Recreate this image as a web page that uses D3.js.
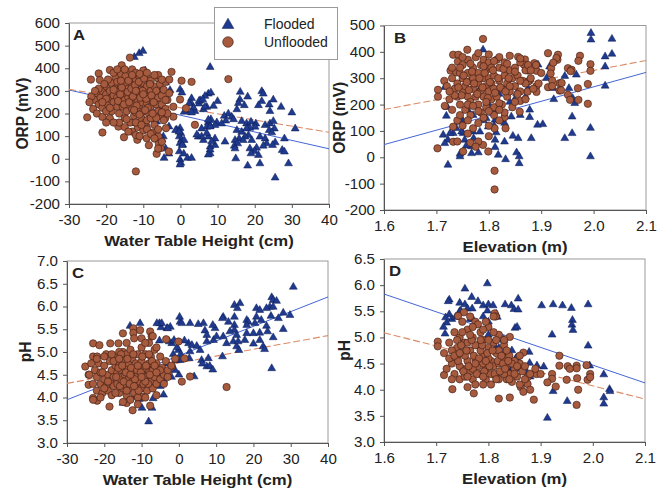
<!DOCTYPE html>
<html><head><meta charset="utf-8">
<script src="https://cdn.jsdelivr.net/npm/d3@7"></script>
<style>body{margin:0;background:#fff} text{font-family:Arial,"Liberation Sans",sans-serif}</style>
</head><body><svg id="c" width="667" height="492"></svg>
<script>
// ---------- tick labels ----------
const wtTicks = [-30,-20,-10,0,10,20,30,40];
const elevTicks = [1.6,1.7,1.8,1.9,2.0,2.1];
const orpTicksA = [-200,-100,0,100,200,300,400,500,600];
const orpTicksB = [-200,-100,0,100,200,300,400,500];
const phTicksC = [3.0,3.5,4.0,4.5,5.0,5.5,6.0,6.5,7.0];
const phTicksD = [3.0,3.5,4.0,4.5,5.0,5.5,6.0,6.5];
const seriesNames = ["Flooded","Unflooded"];

// ---------- Panel A: water table height (cm) vs ORP (mV) ----------
const aFlooded = [[-12.4,449],[-11.1,466],[-10.1,476],[8.0,405],[16.1,295],[21.9,298],[22.3,287],[7.5,287],[8.2,292],[6.6,277],[5.3,258],[5.0,243],[10.0,254],[8.9,233],[7.1,229],[6.2,218],[3.9,210],[16.0,262],[18.1,274],[15.6,245],[17.2,236],[21.9,254],[25.0,261],[27.1,229],[23.9,239],[21.0,236],[24.1,210],[30.0,204],[15.2,218],[12.9,199],[11.8,189],[13.8,185],[14.3,174],[12.2,168],[9.8,160],[11.1,155],[8.2,174],[7.5,160],[8.0,145],[9.3,148],[7.1,141],[5.7,133],[16.5,166],[17.8,155],[19.0,163],[20.3,155],[20.1,141],[18.7,136],[22.8,148],[24.1,155],[25.0,166],[25.3,133],[23.9,126],[24.6,116],[30.9,133],[15.2,126],[16.5,118],[17.8,133],[18.3,104],[17.4,97],[15.8,89],[14.7,82],[15.4,67],[14.5,57],[16.9,82],[19.2,82],[21.4,97],[22.8,89],[23.2,67],[25.5,72],[28.0,89],[27.4,38],[24.8,60],[22.3,57],[20.5,48],[19.9,33],[18.7,45],[19.0,23],[21.0,16],[21.4,-21],[18.1,-31],[29.1,-21],[25.5,-84],[14.9,1],[14.7,45],[12.0,75],[9.3,60],[8.0,53],[8.0,23],[9.3,89],[7.5,97],[6.2,82],[4.8,97],[28.0,31],
[-4.4,337],[-5.2,306],[-0.1,306],[0.4,292],[-2.8,303],[3.0,267],[2.9,245],[3.5,226],[1.7,211],[3.0,204],[5.0,255],[6.0,262],[6.6,230],[-3.1,142],[-1.0,128],[-0.1,135],[0.1,113],[-0.3,98],[0.3,84],[-0.1,69],[0.6,62],[-0.3,32],[0.9,22],[-0.1,-4],[0.1,-19],[-0.1,-26],[1.9,3],[3.0,3],[-3.1,22],[-4.4,3],[-5.5,216],[-6.4,164],[-4.6,98],[-6.4,84],[-5.7,47],[5.7,98],[4.4,106],[7.1,113],[8.0,142],[7.5,172],[8.4,76],[8.0,40],[7.5,18],[-9.5,390],[-12.9,157],[-6.4,128],[-4.0,45],[-5.0,86],[2.3,243],[1.0,207],[-1.3,126],[-0.4,119],[1.0,82],[0.5,60],[-4.0,336]];
const aUnflooded = [[-25.1,183],[-24.1,350],[-22.0,377],[-21.7,348],[-21.0,116],[-19.0,179],[-19.0,392],[-15.8,413],[-13.6,447],[-16.7,142],[-15.2,95],[-12.0,-56],[-11.6,84],[-9.1,91],[-6.4,22],[-5.8,66],[-5.3,47],[-3.1,32],[-2.4,384],[0.3,345],[3.0,340],[-0.1,262],[1.5,223],[3.9,150],[-1.9,230],[-3.9,135],[-1.9,186],[-4.1,179],[-7.5,116],[-9.1,142],[-5.9,98],[12.9,352],
[-23,260],[-22.5,290],[-22,240],[-21.5,270],[-21,300],[-21,225],[-20.5,255],[-20,285],[-20,320],[-19.5,240],[-19,265],[-19,300],[-18.5,335],[-18.5,210],[-18,280],[-18,250],[-17.5,310],[-17.5,360],[-17,230],[-17,270],[-17,340],[-16.5,295],[-16.5,200],[-16,250],[-16,320],[-16,375],[-15.5,280],[-15.5,230],[-15.5,345],[-15,300],[-15,260],[-15,180],[-14.5,330],[-14.5,210],[-14.5,385],[-14,270],[-14,240],[-14,310],[-13.5,355],[-13.5,290],[-13.5,160],[-13,220],[-13,260],[-13,330],[-13,395],[-12.5,300],[-12.5,190],[-12.5,240],[-12,350],[-12,275],[-12,205],[-12,380],[-11.5,320],[-11.5,255],[-11.5,140],[-11,290],[-11,225],[-11,360],[-10.5,305],[-10.5,180],[-10.5,250],[-10,335],[-10,270],[-10,210],[-10,390],[-9.5,295],[-9.5,160],[-9,245],[-9,320],[-9,360],[-8.5,275],[-8.5,200],[-8,300],[-8,230],[-8,345],[-7.5,260],[-7.5,180],[-7,320],[-7,280],[-7,150],[-6.5,240],[-6.5,300],[-6,355],[-6,210],[-6,270],[-5.5,190],[-5.5,330],[-5,240],[-5,280],[-4.5,170],[-4.5,305],[-4,220],[-3.5,260],[-3.5,200],[-3,290],[-24,275],[-23.5,220],[-22.5,200],[-21,185],[-20,210],[-19.5,350],[-18,380],[-17,395],[-13,120],[-12,105],[-10,125],[-9,130],[-8,110],[-7,90],[-6,130],[-8.5,60],[-6,45],[-5,75],[-11,100],[-9,170],[-15,140],[-16.5,160],[-14,120],[-12,160],[-6,370],[-4,340],[-3,350],
[-16.8,255],[-16.2,285],[-15.8,315],[-15.2,240],[-14.8,365],[-14.2,295],[-13.8,250],[-13.2,310],[-12.8,275],[-12.2,325],[-11.8,235],[-11.2,340],[-10.8,270],[-10.2,300],[-9.8,355],[-9.2,265],[-8.8,225],[-8.2,330],[-7.8,280],[-7.2,250],[-16,345],[-14,345],[-12,300],[-10,285],[-18,305],[-19,225],[-20,265],[-21,250],[-22,310],[-12.5,215],[-11,195],[-9.5,215],[-8,180],[-6.5,180],[-5,205],[-4,260],[-5,350],[-7,370],[-9,380],[-11,375],[-13,370],[-15,395],[-20.5,330],[-23,300],[-24.5,250],[-18,160],[-20,160],[-14.5,175],[-10.5,150],[-7.5,200]];
const fitAFlooded = [304, 44];     // y at x-domain ends
const fitAUnflooded = [307, 117];

// ---------- Panel B: elevation (m) vs ORP (mV) ----------
const bFlooded = [[1.995,471],[1.995,446],[2.035,449],[2.035,392],[2.022,382],[2.022,344],[2.022,271],[1.994,111],[1.994,3],[1.967,313],[1.953,262],[1.960,224],[1.964,205],[1.959,154],[1.959,91],[1.945,72],[1.903,125],[1.893,123],[1.881,72],[1.878,180],[1.878,152],[1.875,262],[1.894,351],[1.916,344],[1.922,262],[1.924,220],[1.910,300],[1.945,308],[1.853,243],[1.849,218],[1.843,154],[1.846,81],[1.853,18],[1.858,3],[1.858,-23],[1.856,72],[1.830,59],[1.832,-8],[1.814,94],[1.818,9],[1.812,38],[1.812,66],[1.812,142],[1.814,180],[1.795,148],[1.799,116],[1.783,97],[1.780,18],[1.770,97],[1.771,72],[1.767,41],[1.767,15],[1.754,66],[1.757,44],[1.751,91],[1.748,97],[1.745,13],[1.745,3],[1.738,110],[1.732,91],[1.726,91],[1.722,66],[1.713,85],[1.716,53],[1.721,190],[1.719,157],[1.716,266],[1.722,-29],[1.789,408],[1.78,250],[1.8,200],[1.76,180],[1.82,240],[1.84,210],[1.79,140],[1.77,160],[1.75,140],[1.83,130],[1.81,120],[1.86,160],[1.87,230]];
const bUnflooded = [[1.789,449],[1.759,408],[1.732,389],[1.742,389],[1.741,363],[1.727,329],[1.738,322],[1.715,290],[1.703,256],[1.703,230],[1.716,195],[1.702,34],[1.732,116],[1.732,59],[1.751,22],[1.789,47],[1.799,22],[1.811,-51],[1.811,-122],[1.811,110],[1.832,110],[1.830,152],[1.859,173],[1.913,395],[1.932,389],[1.931,370],[1.919,338],[1.921,291],[1.913,266],[1.935,253],[1.935,281],[1.951,338],[1.958,332],[1.951,237],[1.955,218],[1.970,262],[1.974,385],[1.971,366],[1.971,218],[1.989,278],[1.989,203],[1.994,353],[1.994,328],[1.891,328],[1.878,291],[1.929,377],[1.923,359],[1.918,318],[1.956,327],[1.939,282],[1.938,254],[1.921,270],[1.891,270],[1.891,248],[1.875,287],[1.874,249],[1.887,357],[1.856,381],[1.869,371],[1.867,352],[1.875,329],[1.860,214],
[1.73,300],[1.735,260],[1.74,230],[1.74,280],[1.745,320],[1.745,200],[1.75,250],[1.75,300],[1.75,350],[1.755,180],[1.755,270],[1.76,230],[1.76,320],[1.76,370],[1.765,290],[1.765,210],[1.765,160],[1.77,260],[1.77,340],[1.77,300],[1.775,230],[1.775,380],[1.78,280],[1.78,200],[1.78,320],[1.785,250],[1.785,350],[1.785,170],[1.79,300],[1.79,230],[1.79,370],[1.795,270],[1.795,330],[1.795,190],[1.8,250],[1.8,300],[1.8,360],[1.805,220],[1.805,280],[1.805,340],[1.81,260],[1.81,310],[1.81,190],[1.815,370],[1.815,230],[1.82,290],[1.82,340],[1.825,260],[1.825,200],[1.83,310],[1.83,360],[1.835,280],[1.835,230],[1.84,330],[1.84,250],[1.845,300],[1.845,190],[1.85,270],[1.85,340],[1.855,310],[1.86,250],[1.86,360],[1.865,290],[1.87,330],[1.87,220],[1.875,350],[1.88,300],[1.885,260],[1.89,350],[1.895,280],[1.9,320],[1.74,140],[1.75,120],[1.76,140],[1.77,110],[1.78,130],[1.79,150],[1.8,120],[1.81,160],[1.82,140],[1.76,90],[1.745,160],[1.73,180],[1.725,220],[1.72,270],[1.73,340],[1.75,380],[1.78,395],[1.8,390],[1.82,380],[1.84,385],[1.86,375],[1.83,170],[1.85,210],[1.78,60],[1.765,55],[1.74,60],[1.8,80],[1.775,40],
[1.742,265],[1.748,235],[1.752,310],[1.758,285],[1.762,255],[1.768,325],[1.772,280],[1.778,240],[1.782,300],[1.788,265],[1.792,320],[1.798,225],[1.802,285],[1.808,330],[1.812,245],[1.818,300],[1.822,265],[1.828,335],[1.832,250],[1.838,300],[1.76,200],[1.78,175],[1.8,175],[1.82,205],[1.765,355],[1.79,345],[1.81,365],[1.835,355],[1.85,325],[1.855,240],[1.87,280],[1.88,330],[1.745,340],[1.735,235],[1.725,250],[1.77,195],[1.795,210],[1.82,180],[1.84,270],[1.86,290]];
const fitBFlooded = [48, 322];
const fitBUnflooded = [181, 367];

// ---------- Panel C: water table height (cm) vs pH ----------
const cFlooded = [[30.7,6.43],[24.9,6.20],[25.3,6.14],[26.2,6.12],[24.4,5.99],[23.5,5.96],[20.8,5.96],[21.7,5.92],[16.4,6.07],[14.9,6.03],[15.7,5.96],[25.3,5.99],[28.0,5.86],[29.8,5.81],[26.7,5.74],[24.7,5.79],[18.2,5.70],[18.6,5.66],[20.8,5.77],[22.1,5.70],[11.9,5.77],[11.7,5.74],[14.9,5.77],[13.3,5.66],[14.9,5.59],[18.2,5.59],[20.4,5.63],[23.5,5.57],[20.0,5.41],[21.7,5.42],[23.8,5.45],[25.3,5.32],[28.0,5.50],[18.2,5.41],[14.9,5.48],[15.5,5.37],[13.7,5.45],[11.9,5.34],[9.7,5.52],[9.1,5.59],[6.6,5.63],[5.2,5.61],[3.0,5.63],[0.3,5.66],[0.2,5.77],[0.8,5.63],[7.0,5.47],[7.5,5.37],[7.5,5.23],[9.3,5.26],[10.1,5.34],[12.8,5.19],[14.6,5.23],[15.5,5.12],[15.9,5.23],[17.7,5.26],[20.0,5.18],[21.7,5.26],[22.6,5.12],[23.0,5.06],[2.6,5.19],[3.5,5.15],[4.8,5.13],[5.7,5.04],[3.0,5.01],[2.8,4.86],[6.1,4.82],[7.9,4.86],[6.3,4.74],[7.5,4.68],[8.3,4.69],[9.1,4.61],[11.7,4.90],[16.1,5.04],[24.9,4.64],[-0.1,5.04],[-1.9,5.19],[0.3,4.82],[-2.3,5.55],[-3.2,5.52],[-4.8,5.54],[-5.2,5.63],[-4.6,5.63],[-5.9,5.63],[-10.4,5.63],[-13.1,5.57],[-5.2,5.25],[-4.1,4.06],[-6.9,3.98],[-7.2,3.77],[-9.9,3.77],[-10.6,3.96],[-8.1,3.47],[-15.0,3.88],[-10.4,4.31],[-4.1,4.39],[4.1,4.46],[-3.0,5.52],[-2.6,5.23],[-1.3,5.26],[-0.8,4.82],[-12.0,4.01],[-11.5,4.24],[0,4.5],[-1,4.6],[-2,4.45],[-3,4.75],[-1.5,4.95],[0.5,4.95],[-0.5,5.1],[1.5,5.25],[-6,4.45],[-5,4.25],[-7.5,4.6]];
const cUnflooded = [[12.8,4.23],[0.8,4.35],[3.0,4.46],[1.5,4.86],[-0.1,5.23],[-3.4,5.28],[-1.9,4.68],[-2.8,4.53],[-25.1,4.68],[-23.0,5.19],[-21.3,5.15],[-23.0,4.90],[-21.9,4.90],[-24.2,4.50],[-24.2,4.28],[-23.0,3.99],[-21.9,3.93],[-18.6,3.80],[-18.4,5.19],[-16.2,5.19],[-15.0,5.41],[-12.2,5.52],[-12.2,5.42],[-10.4,5.48],[-7.7,5.45],[-7.3,5.34],[-14.0,3.88],[-12.4,3.72],[-7.7,3.82],[-9.5,4.02],
[-23,4.3],[-22.5,4.6],[-22,4.15],[-22,4.45],[-21.5,4.75],[-21,4.3],[-21,4.55],[-20.5,4.1],[-20,4.4],[-20,4.7],[-19.5,4.25],[-19.5,4.95],[-19,4.5],[-19,4.15],[-18.5,4.35],[-18.5,4.8],[-18,4.6],[-18,4.05],[-17.5,4.25],[-17.5,4.45],[-17,4.7],[-17,4.9],[-16.5,4.3],[-16.5,4.55],[-16,4.1],[-16,4.75],[-15.5,4.4],[-15.5,4.6],[-15,4.2],[-15,4.85],[-15,5.0],[-14.5,4.5],[-14.5,4.3],[-14,4.65],[-14,4.05],[-14,4.95],[-13.5,4.4],[-13.5,4.75],[-13,4.2],[-13,4.55],[-13,5.05],[-12.5,4.35],[-12.5,4.85],[-12,4.6],[-12,4.1],[-12,4.45],[-11.5,4.75],[-11.5,4.25],[-11,4.95],[-11,4.5],[-11,4.0],[-10.5,4.35],[-10.5,4.65],[-10,4.8],[-10,4.2],[-10,5.1],[-9.5,4.5],[-9.5,4.3],[-9,4.65],[-9,4.95],[-8.5,4.4],[-8.5,4.15],[-8,4.75],[-8,4.55],[-8,5.2],[-7.5,4.35],[-7.5,4.9],[-7,4.6],[-7,4.2],[-6.5,4.45],[-6.5,5.05],[-6,4.75],[-6,4.3],[-5.5,4.55],[-5,4.9],[-5,4.4],[-4.5,4.65],[-4,4.5],[-3.5,4.8],[-3,4.6],[-2,4.7],[-1,4.85],[-24,4.5],[-23.5,4.75],[-23,3.95],[-21,4.0],[-20,4.9],[-17,4.1],[-16,5.0],[-14,5.2],[-12,5.3],[-10,5.3],[-9,5.2],[-7,5.35],[-6,5.1],[-13,3.95],[-11,3.85],[-9,4.0],[-6,4.05],[-15,3.9],
[-16.8,4.45],[-16.2,4.65],[-15.8,4.25],[-15.2,4.7],[-14.8,4.35],[-14.2,4.55],[-13.8,4.85],[-13.2,4.3],[-12.8,4.65],[-12.2,4.95],[-11.8,4.4],[-11.2,4.6],[-10.8,4.15],[-10.2,4.55],[-9.8,4.9],[-9.2,4.45],[-8.8,4.7],[-8.2,4.3],[-7.8,4.5],[-7.2,4.8],[-17.5,4.8],[-19,4.35],[-20.5,4.55],[-22,4.85],[-13,4.5],[-11,4.7],[-9,4.35],[-6.5,4.7],[-5,4.6],[-4,4.3],[-3,4.45],[-15.5,4.95],[-18,4.95],[-12,4.25],[-10,4.45],[-8,4.95],[-6,4.55],[-14,4.15],[-16,4.85],[-20,4.2]];
const fitCFlooded = [3.95, 6.21];
const fitCUnflooded = [4.31, 5.36];

// ---------- Panel D: elevation (m) vs pH ----------
const dFlooded = [[1.798,6.03],[1.755,5.93],[1.768,5.77],[1.725,5.72],[1.723,5.69],[1.745,5.66],[1.755,5.63],[1.780,5.69],[1.790,5.61],[1.800,5.63],[1.809,5.61],[1.832,5.63],[1.844,5.61],[1.849,5.54],[1.857,5.53],[1.857,5.74],[1.902,5.61],[1.924,5.63],[1.942,5.61],[1.959,5.56],[1.991,5.63],[1.961,5.33],[1.960,5.24],[1.962,5.14],[1.922,5.05],[1.991,4.84],[1.994,4.46],[2.021,4.29],[2.021,3.85],[2.021,3.73],[2.032,4.01],[2.033,3.97],[1.951,3.78],[1.913,3.46],[1.924,3.97],[1.906,4.44],[1.893,4.46],[1.879,4.51],[1.878,4.72],[1.873,4.35],[1.854,4.61],[1.828,4.96],[1.851,5.18],[1.855,5.20],[1.814,4.80],[1.720,5.28],[1.714,5.20],[1.717,5.07],[1.725,5.44],[1.73,5.35],[1.745,5.5],[1.76,5.55],[1.77,5.35],[1.79,5.4],[1.8,5.3],[1.815,5.45],[1.83,4.95],[1.83,4.7],[1.845,4.75],[1.8,5.05],[1.82,4.8],[1.84,4.4],[1.86,4.4],[1.88,4.25],[1.89,4.35],[1.718,5.38],[1.737,5.39],[1.747,5.51],[1.765,5.35],[1.769,5.55],[1.798,5.51],[1.817,5.39],[1.838,4.43],[1.852,4.59],[1.894,4.30]];
const dUnflooded = [[1.703,4.92],[1.703,4.83],[1.715,4.70],[1.715,4.28],[1.731,4.01],[1.772,3.93],[1.820,3.83],[1.841,3.85],[1.887,3.81],[1.969,3.71],[1.972,4.00],[1.990,4.19],[1.995,4.30],[1.995,4.24],[1.988,4.47],[1.969,4.46],[1.969,4.41],[1.970,4.22],[1.952,4.45],[1.956,4.40],[1.950,4.19],[1.936,4.65],[1.936,4.46],[1.922,4.30],[1.922,4.21],[1.913,4.14],[1.929,4.06],[1.892,4.30],[1.875,4.24],[1.875,4.11],[1.862,4.05],[1.867,3.96],[1.867,4.71],[1.841,5.01],[1.812,5.46],[1.814,5.40],[1.753,5.48],[1.742,5.41],
[1.73,4.5],[1.735,4.3],[1.74,4.8],[1.74,4.6],[1.745,4.2],[1.745,5.0],[1.75,4.4],[1.75,4.7],[1.755,4.9],[1.755,4.25],[1.76,5.15],[1.76,4.55],[1.765,4.35],[1.765,4.75],[1.77,5.0],[1.77,4.2],[1.775,4.6],[1.775,5.3],[1.78,4.45],[1.78,4.85],[1.785,4.3],[1.785,5.1],[1.79,4.65],[1.79,4.95],[1.795,4.4],[1.795,4.2],[1.8,4.8],[1.8,5.2],[1.805,4.55],[1.805,4.3],[1.81,4.9],[1.81,4.45],[1.815,4.7],[1.815,4.25],[1.82,4.5],[1.82,5.05],[1.825,4.35],[1.83,4.6],[1.83,4.85],[1.835,4.2],[1.835,4.45],[1.84,4.3],[1.84,4.65],[1.845,4.15],[1.85,4.4],[1.855,4.25],[1.86,4.5],[1.86,4.1],[1.865,4.35],[1.87,4.2],[1.75,5.3],[1.765,5.4],[1.78,5.25],[1.725,4.9],[1.73,4.75],[1.72,4.4],[1.735,5.1],[1.745,4.45],[1.76,4.05],[1.775,4.1],[1.79,4.1],[1.805,4.1],[1.82,4.2],[1.83,4.3],[1.85,4.55],[1.87,4.45],[1.88,4.3],[1.89,4.4],[1.9,4.3],[1.88,4.0],[1.755,4.65],[1.77,4.4],[1.785,4.75],[1.8,4.6],[1.815,4.95],[1.795,5.3],[1.81,5.4],[1.83,4.95],[1.725,4.6],[1.74,4.95],[1.79,4.5],[1.82,4.75],[1.76,4.9],[1.775,4.85],[1.835,4.75],[1.845,4.5],
[1.742,4.55],[1.748,4.85],[1.752,4.35],[1.758,4.75],[1.762,4.45],[1.768,4.95],[1.772,4.65],[1.778,4.3],[1.782,4.6],[1.788,4.85],[1.792,4.35],[1.798,4.7],[1.802,4.45],[1.808,4.75],[1.812,4.3],[1.818,4.55],[1.822,4.35],[1.828,4.5],[1.832,4.4],[1.838,4.55],[1.75,5.1],[1.77,5.2],[1.79,5.15],[1.81,5.1],[1.765,5.05],[1.785,4.95],[1.8,4.95],[1.76,4.25],[1.79,4.25],[1.815,4.2],[1.735,4.65],[1.73,4.2],[1.745,4.7],[1.775,4.5],[1.795,4.55],[1.825,4.65],[1.85,4.3],[1.86,4.65],[1.84,4.2],[1.855,4.45]];
const fitDFlooded = [5.83, 4.13];
const fitDUnflooded = [5.09, 3.82];

// ---------- styles ----------
const C_FLOOD = "#1f3a8e", C_FLOOD_STROKE = "#0d1c52";
const C_UNFL = "#a65a3e", C_UNFL_STROKE = "#3a1a10";
const C_LINE_F = "#4466d4", C_LINE_U = "#dc8a66";
const SX = 1.08;   // horizontal stretch of the source figure's text

const fmtInt = d => String(d);
const fmt1 = d => d.toFixed(1);

const panels = [
  {letter:"A", L:69, R:329, T:23, B:204, xd:[-30,40], yd:[-200,600], xt:wtTicks, yt:orpTicksA, xf:fmtInt, yf:fmtInt,
   xl:"Water Table Height (cm)", yl:"ORP (mV)", fl:aFlooded, un:aUnflooded, ff:fitAFlooded, fu:fitAUnflooded, ldx:4, ylx:22},
  {letter:"B", L:384, R:646, T:25.5, B:210, xd:[1.6,2.1], yd:[-200,500], xt:elevTicks, yt:orpTicksB, xf:fmt1, yf:fmtInt,
   xl:"Elevation (m)", yl:"ORP (mV)", fl:bFlooded, un:bUnflooded, ff:fitBFlooded, fu:fitBUnflooded, ldx:10, ylx:339},
  {letter:"C", L:67, R:328, T:261, B:443, xd:[-30,40], yd:[3,7], xt:wtTicks, yt:phTicksC, xf:fmtInt, yf:fmt1,
   xl:"Water Table Height (cm)", yl:"pH", fl:cFlooded, un:cUnflooded, ff:fitCFlooded, fu:fitCUnflooded, ldx:5, ylx:25},
  {letter:"D", L:384, R:645, T:259, B:442, xd:[1.6,2.1], yd:[3,6.5], xt:elevTicks, yt:phTicksD, xf:fmt1, yf:fmt1,
   xl:"Elevation (m)", yl:"pH", fl:dFlooded, un:dUnflooded, ff:fitDFlooded, fu:fitDUnflooded, ldx:5, ylx:344}
];

const svg = d3.select("#c");
svg.append("rect").attr("width",667).attr("height",492).attr("fill","#fff");
const tri = d3.symbol().type(d3.symbolTriangle).size(27);

panels.forEach(p => {
  const g = svg.append("g");
  const x = d3.scaleLinear().domain(p.xd).range([p.L, p.R]);
  const y = d3.scaleLinear().domain(p.yd).range([p.B, p.T]);

  g.append("rect").attr("x",p.L).attr("y",p.T).attr("width",p.R-p.L).attr("height",p.B-p.T)
    .attr("fill","#fff").attr("stroke","#9a9a9a").attr("stroke-width",1);

  const xa = g.append("g").attr("transform",`translate(0,${p.B})`)
    .call(d3.axisBottom(x).tickValues(p.xt).tickFormat(p.xf).tickSize(4).tickPadding(7).tickSizeOuter(0));
  const ya = g.append("g").attr("transform",`translate(${p.L},0)`)
    .call(d3.axisLeft(y).tickValues(p.yt).tickFormat(p.yf).tickSize(4).tickPadding(5).tickSizeOuter(0));
  [xa, ya].forEach(a => {
    a.select(".domain").attr("stroke","#555");
    a.selectAll(".tick line").attr("stroke","#555");
    a.selectAll("text").attr("font-size","14px").attr("fill","#222")
      .attr("font-family","Arial, 'Liberation Sans', sans-serif");
  });
  xa.selectAll(".tick text").attr("transform", `scale(${SX},1)`);
  ya.selectAll(".tick text").attr("x", -9 / SX).attr("transform", `scale(${SX},1)`);

  // regression lines
  const line = d3.line().x(d => x(d[0])).y(d => y(d[1]));
  g.append("path").datum([[p.xd[0], p.ff[0]], [p.xd[1], p.ff[1]]])
    .attr("d", line).attr("stroke", C_LINE_F).attr("stroke-width", 1).attr("fill","none");
  g.append("path").datum([[p.xd[0], p.fu[0]], [p.xd[1], p.fu[1]]])
    .attr("d", line).attr("stroke", C_LINE_U).attr("stroke-width", 1.1)
    .attr("stroke-dasharray","7,3").attr("fill","none");

  // points
  g.append("g").selectAll("path").data(p.fl).join("path")
    .attr("d", tri).attr("transform", d => `translate(${x(d[0])},${y(d[1])})`)
    .attr("fill", C_FLOOD).attr("stroke", C_FLOOD_STROKE).attr("stroke-width", 0.5);
  g.append("g").selectAll("circle").data(p.un).join("circle")
    .attr("cx", d => x(d[0])).attr("cy", d => y(d[1])).attr("r", 3.7)
    .attr("fill", C_UNFL).attr("stroke", C_UNFL_STROKE).attr("stroke-width", 0.6);

  // panel letter
  g.append("text").attr("transform", `translate(${p.L + p.ldx},${p.T + 17}) scale(${SX},1)`).text(p.letter)
    .attr("font-size","15.5px").attr("font-weight","bold").attr("fill","#222");

  // axis titles
  g.append("text").attr("transform", `translate(${(p.L + p.R)/2},${p.B + 42}) scale(${SX},1)`).attr("text-anchor","middle")
    .attr("font-size","15.5px").attr("font-weight","bold").attr("fill","#222").text(p.xl);
  g.append("text").attr("transform", `translate(${p.ylx + 5.5},${(p.T + p.B)/2}) scale(${SX},1) rotate(-90)`)
    .attr("text-anchor","middle").attr("font-size","15.5px").attr("font-weight","bold").attr("fill","#222").text(p.yl);
});

// legend
const lg = svg.append("g");
lg.append("rect").attr("x",214.5).attr("y",7.5).attr("width",123).attr("height",52)
  .attr("fill","#fff").attr("stroke","#9a9a9a");
lg.append("path").attr("d", d3.symbol().type(d3.symbolTriangle).size(60))
  .attr("transform","translate(228,25)").attr("fill",C_FLOOD).attr("stroke",C_FLOOD_STROKE).attr("stroke-width",0.5);
lg.append("circle").attr("cx",228).attr("cy",42).attr("r",5.3)
  .attr("fill",C_UNFL).attr("stroke",C_UNFL_STROKE).attr("stroke-width",0.6);
lg.selectAll("text.lab").data(seriesNames).join("text").attr("class","lab")
  .attr("x",264).attr("y",(d,i) => 29 + i*18).attr("font-size","14px").attr("fill","#222").text(d => d);
</script></body></html>
